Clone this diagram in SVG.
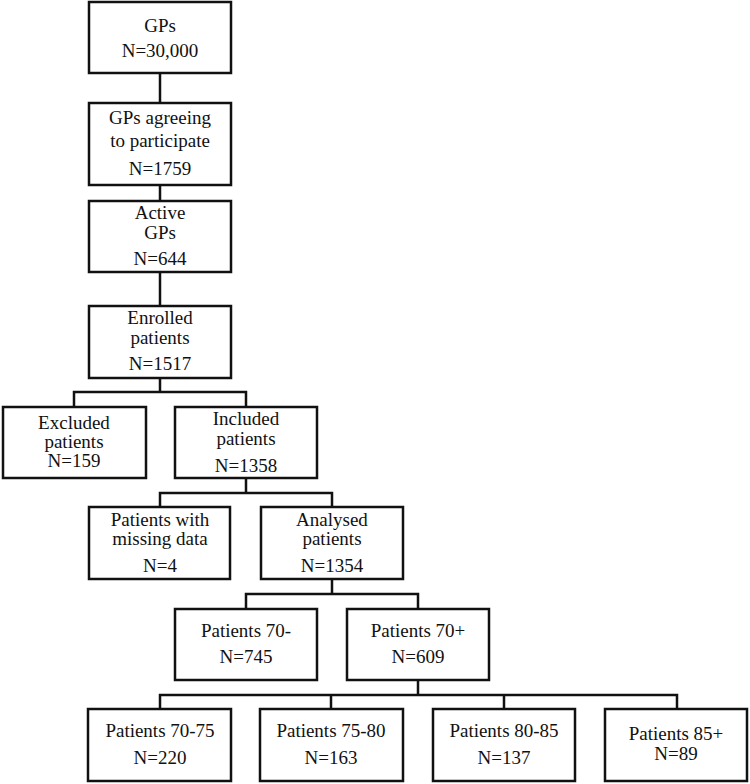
<svg xmlns="http://www.w3.org/2000/svg" width="750" height="784" viewBox="0 0 750 784">
<style>
.box{fill:#fff;stroke:#111;stroke-width:2.5}
.t{font-family:'Liberation Serif','Times New Roman','DejaVu Serif',serif;font-size:19px;fill:#111;text-anchor:middle}
.c{fill:none;stroke:#111;stroke-width:2.5}
</style>
<rect width="750" height="784" fill="#fff"/>
<g id="connectors">
<path class="c" d="M160 73V103M160 185V201M160 272V306M160 378V392"/>
<path class="c" d="M74 407V392H246V407"/>
<path class="c" d="M246 478V493M160 507V493H332V507"/>
<path class="c" d="M332 579V594M246 609V594H418V609"/>
<path class="c" d="M418 680V695M160 709V695H677V709M331 695V709M504 695V709"/>
</g>
<g font-family="Liberation Serif, Times New Roman, serif">
<g id="gps"><rect class="box" x="89" y="2" width="142" height="71"/>
<text class="t" x="160" y="32">GPs</text><text class="t" x="160" y="57">N=30,000</text></g>
<g id="agreeing"><rect class="box" x="89" y="103" width="142" height="82"/>
<text class="t" x="160" y="124">GPs agreeing</text><text class="t" x="160" y="147">to participate</text><text class="t" x="160" y="175">N=1759</text></g>
<g id="active"><rect class="box" x="89" y="201" width="142" height="71"/>
<text class="t" x="160" y="219">Active</text><text class="t" x="160" y="239">GPs</text><text class="t" x="160" y="265">N=644</text></g>
<g id="enrolled"><rect class="box" x="89" y="306" width="142" height="72"/>
<text class="t" x="160" y="324">Enrolled</text><text class="t" x="160" y="344">patients</text><text class="t" x="160" y="370">N=1517</text></g>
<g id="excluded"><rect class="box" x="3" y="407" width="143" height="71"/>
<text class="t" x="74" y="429">Excluded</text><text class="t" x="74" y="448">patients</text><text class="t" x="74" y="467">N=159</text></g>
<g id="included"><rect class="box" x="175" y="407" width="142" height="71"/>
<text class="t" x="246" y="425">Included</text><text class="t" x="246" y="445">patients</text><text class="t" x="246" y="472">N=1358</text></g>
<g id="missing"><rect class="box" x="89" y="507" width="141" height="72"/>
<text class="t" x="160" y="526">Patients with</text><text class="t" x="160" y="545">missing data</text><text class="t" x="160" y="572">N=4</text></g>
<g id="analysed"><rect class="box" x="261" y="507" width="142" height="72"/>
<text class="t" x="332" y="526">Analysed</text><text class="t" x="332" y="545">patients</text><text class="t" x="332" y="572">N=1354</text></g>
<g id="p70minus"><rect class="box" x="175" y="609" width="142" height="71"/>
<text class="t" x="246" y="637">Patients 70-</text><text class="t" x="246" y="663">N=745</text></g>
<g id="p70plus"><rect class="box" x="347" y="609" width="142" height="71"/>
<text class="t" x="418" y="637">Patients 70+</text><text class="t" x="418" y="663">N=609</text></g>
<g id="p70-75"><rect class="box" x="88" y="709" width="143" height="72"/>
<text class="t" x="160" y="737">Patients 70-75</text><text class="t" x="160" y="764">N=220</text></g>
<g id="p75-80"><rect class="box" x="260" y="709" width="143" height="72"/>
<text class="t" x="331" y="737">Patients 75-80</text><text class="t" x="331" y="764">N=163</text></g>
<g id="p80-85"><rect class="box" x="433" y="709" width="142" height="72"/>
<text class="t" x="504" y="737">Patients 80-85</text><text class="t" x="504" y="764">N=137</text></g>
<g id="p85plus"><rect class="box" x="605" y="709" width="142" height="72"/>
<text class="t" x="676" y="740">Patients 85+</text><text class="t" x="676" y="760">N=89</text></g>
</g>
</svg>
